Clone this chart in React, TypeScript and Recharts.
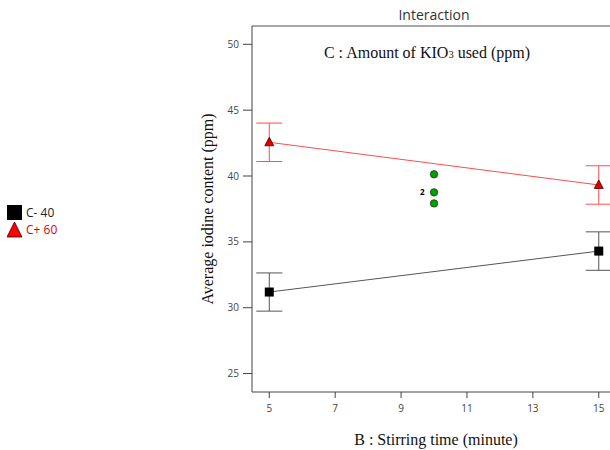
import React from "react";
import {
  ComposedChart,
  Line,
  Scatter,
  XAxis,
  YAxis,
  ErrorBar,
  LabelList,
  ReferenceLine,
  Legend,
} from "recharts";

// stirring time levels and the two KIO3 lines
const stirTime = [5, 15];
const lowKIO3 = [31.19, 34.3];
const lowErr = [1.45, 1.46];
const highKIO3 = [42.56, 39.32];
const highErr = [1.46, 1.46];

// center points
const centerTime = [10, 10, 10];
const centerValue = [40.13, 38.76, 37.92];
const centerCount = ["", "2", ""];

const xTicks = [5, 7, 9, 11, 13, 15];
const yTicks = [25, 30, 35, 40, 45, 50];
const legendNames = ["C- 40", "C+ 60"];

const X_DOMAIN: [number, number] = [4.475, 15.645];
const Y_DOMAIN: [number, number] = [23.6, 51.39];

const lowData = stirTime.map((x, i) => ({ x, y: lowKIO3[i], err: lowErr[i] }));
const highData = stirTime.map((x, i) => ({ x, y: highKIO3[i], err: highErr[i] }));
const centerData = centerTime.map((x, i) => ({ x, y: centerValue[i], n: centerCount[i] }));

const sans = "'Open Sans', 'Noto Sans', sans-serif";
const serif = "'Liberation Serif', 'Times New Roman', serif";

const squareDot = (p: any) => (
  <rect key={`sq-${p.index}`} x={p.cx - 4.5} y={p.cy - 4.5} width={9} height={9} fill="#000" />
);

const triangleDot = (p: any) => (
  <polygon
    key={`tr-${p.index}`}
    points={`${p.cx},${p.cy - 5} ${p.cx - 4.5},${p.cy + 3.5} ${p.cx + 4.5},${p.cy + 3.5}`}
    fill="#e00000"
    stroke="#400"
    strokeWidth={0.8}
  />
);

const greenDot = (p: any) => (
  <circle cx={p.cx} cy={p.cy} r={3.7} fill="#00a000" stroke="#1a3a1a" strokeWidth={0.8} />
);

const renderLegend = () => (
  <div style={{ fontFamily: sans, fontSize: 12, lineHeight: "17px" }}>
    <div style={{ display: "flex", alignItems: "center", height: 17 }}>
      <svg width={17} height={17}>
        <rect x={0} y={1} width={15} height={15} fill="#000" />
      </svg>
      <span style={{ color: "#222", marginLeft: 2 }}>{legendNames[0]}</span>
    </div>
    <div style={{ display: "flex", alignItems: "center", height: 17 }}>
      <svg width={17} height={17}>
        <polygon points="7.5,1 0,16 15,16" fill="#ff0000" stroke="#300" strokeWidth={0.8} />
      </svg>
      <span style={{ color: "#e00000", marginLeft: 2 }}>{legendNames[1]}</span>
    </div>
  </div>
);

export default function App() {
  return (
    <div
      style={{
        position: "absolute",
        left: 0,
        top: 0,
        width: 610,
        height: 450,
        overflow: "hidden",
        background: "#fff",
      }}
    >
      <div
        style={{
          position: "absolute",
          left: 252,
          width: 364,
          top: 5,
          textAlign: "center",
          fontFamily: sans,
          fontSize: 14,
          color: "#333",
        }}
      >
        Interaction
      </div>
      <div
        style={{
          position: "absolute",
          left: 252,
          width: 350,
          top: 44,
          textAlign: "center",
          fontFamily: serif,
          fontSize: 16,
          color: "#111",
          zIndex: 2,
        }}
      >
        C : Amount of KIO<span style={{ fontSize: 10.5 }}>3</span> used (ppm)
      </div>
      <ComposedChart
        width={640}
        height={450}
        margin={{ top: 26, right: 20, bottom: 0, left: 162 }}
      >
        <XAxis
          dataKey="x"
          type="number"
          domain={X_DOMAIN}
          ticks={xTicks}
          allowDataOverflow
          height={58}
          tickSize={6}
          tickMargin={7}
          axisLine={{ stroke: "#444" }}
          tickLine={{ stroke: "#444" }}
          tick={{ fontSize: 10, fill: "#444", fontFamily: sans }}
          label={{
            value: "B : Stirring time (minute)",
            position: "insideBottom",
            offset: 5,
            style: { fontFamily: serif, fontSize: 16, fill: "#111" },
          }}
        />
        <YAxis
          type="number"
          domain={Y_DOMAIN}
          ticks={yTicks}
          allowDataOverflow
          width={90}
          tickSize={9}
          tickMargin={4}
          axisLine={{ stroke: "#444" }}
          tickLine={{ stroke: "#444" }}
          tick={{ fontSize: 10, fill: "#444", fontFamily: sans }}
          label={{
            value: "Average iodine content (ppm)",
            position: "center",
            angle: -90,
            style: { fontFamily: serif, fontSize: 16, fill: "#111", textAnchor: "middle" },
          }}
        />
        <ReferenceLine y={Y_DOMAIN[1]} stroke="#888" strokeWidth={1.5} />
        <ReferenceLine x={X_DOMAIN[1]} stroke="#888" strokeWidth={1.5} />
        <Legend
          content={renderLegend}
          layout="vertical"
          align="center"
          verticalAlign="middle"
          wrapperStyle={{ position: "absolute", left: 7, top: 204, width: 80 }}
        />
        <Line
          data={lowData}
          dataKey="y"
          name={legendNames[0]}
          stroke="#555"
          strokeWidth={1}
          dot={squareDot}
          activeDot={false}
          isAnimationActive={false}
        >
          <ErrorBar dataKey="err" direction="y" width={13} stroke="#555" strokeWidth={1} />
        </Line>
        <Line
          data={highData}
          dataKey="y"
          name={legendNames[1]}
          stroke="#ff4d4d"
          strokeWidth={1}
          dot={triangleDot}
          activeDot={false}
          isAnimationActive={false}
        >
          <ErrorBar dataKey="err" direction="y" width={13} stroke="#ff4d4d" strokeWidth={1} />
        </Line>
        <Scatter
          data={centerData}
          dataKey="y"
          shape={greenDot}
          legendType="none"
          isAnimationActive={false}
        >
          <LabelList
            dataKey="n"
            position="left"
            offset={5}
            style={{ fontSize: 8, fontWeight: "bold", fill: "#000", fontFamily: sans }}
          />
        </Scatter>
      </ComposedChart>
    </div>
  );
}
